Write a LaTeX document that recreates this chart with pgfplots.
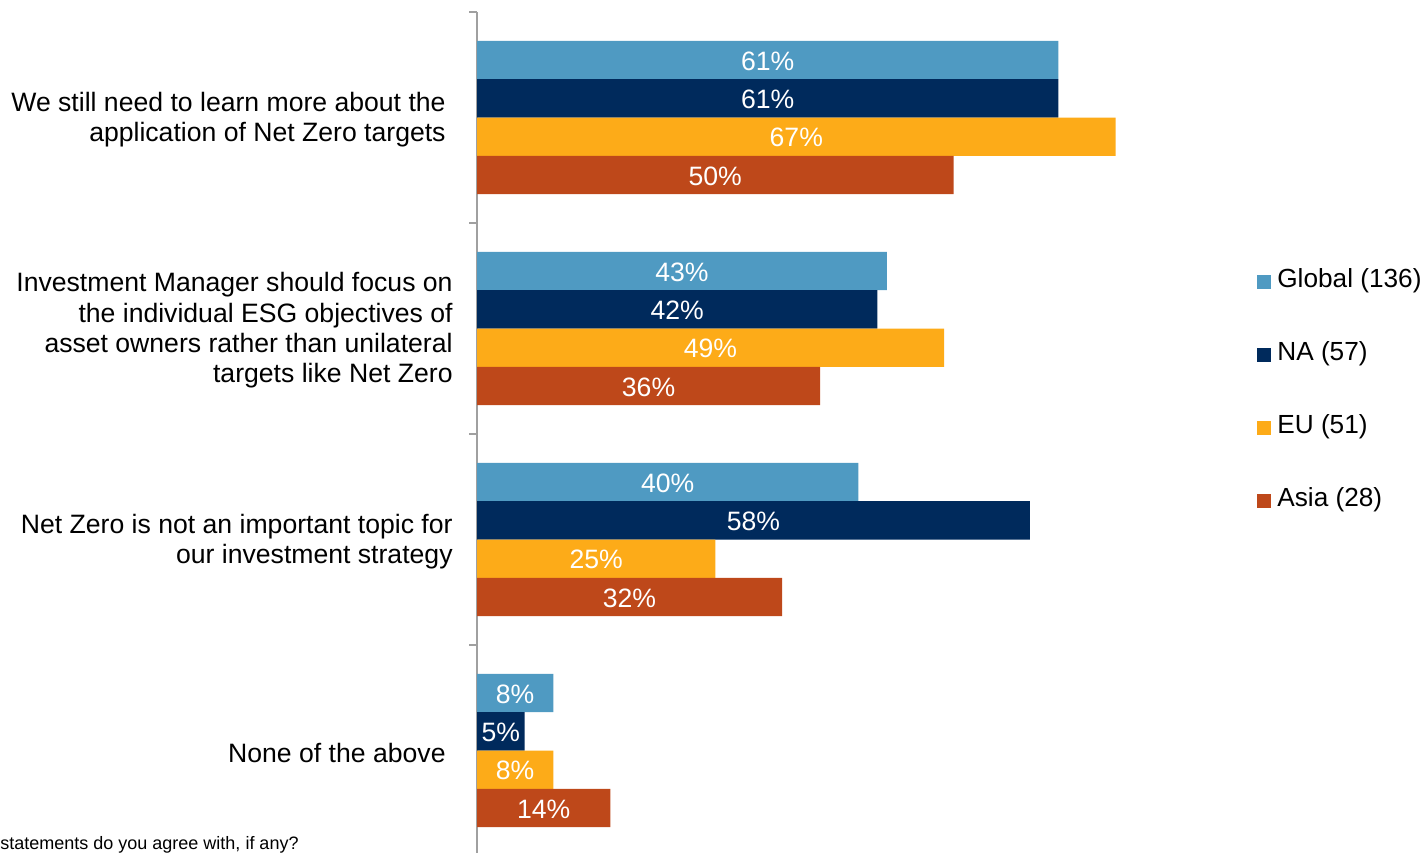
\documentclass[border=0pt]{standalone}
\usepackage{fontspec}
\setmainfont{Liberation Sans}
\usepackage{pgfplots}
\pgfplotsset{compat=1.18}
\definecolor{cGlobal}{HTML}{4F9AC2}
\definecolor{cNA}{HTML}{002A5C}
\definecolor{cEU}{HTML}{FDAB18}
\definecolor{cAsia}{HTML}{BE481A}
\definecolor{axgray}{HTML}{A0A0A0}
\begin{document}
\begin{tikzpicture}
\path[use as bounding box] (0,0) rectangle (712pt,426pt);
\begin{axis}[
  at={(238.5pt,420pt)}, anchor=north west,
  scale only axis, width=333.6pt, height=422pt,
  xbar, bar width=0.1815,
  xmin=0, xmax=70, ymin=-0.5, ymax=3.5,
  y dir=reverse,
  axis x line=none, axis y line*=left,
  axis line style={axgray, line width=0.75pt},
  xtick=\empty,
  ytick={0,1,2,3},
  yticklabels={
    {We still need to learn more about the\hspace*{3.5pt}\\application of Net Zero targets\hspace*{3.5pt}},
    {Investment Manager should focus on\\the individual ESG objectives of\\asset owners rather than unilateral\\targets like Net Zero},
    {Net Zero is not an important topic for\\our investment strategy},
    {None of the above\hspace*{3.5pt}}},
  major tick length=0pt,
  minor ytick={-0.5,0.5,1.5,2.5,3.5},
  minor tick length=4pt,
  tick align=outside,
  minor tick style={axgray, line width=0.75pt},
  yticklabel style={align=right, inner sep=0pt, xshift=-12pt, yshift=-1pt, font=\fontsize{13.3}{15.2}\selectfont},
  /pgf/number format/assume math mode=true,
  nodes near coords={\pgfmathprintnumber{\pgfplotspointmeta}\%},
  visualization depends on={x \as \rawx},
  every node near coord/.append style={anchor=center, text=white, font=\fontsize{13.3}{15}\selectfont,
     shift={(axis direction cs:-\rawx/2,0)}, yshift=-0.5pt},
  legend style={draw=none, at={(axis description cs:1.169,0.5506)}, anchor=west,
     font=\fontsize{13.1}{15}\selectfont, row sep=24.5pt, inner sep=0pt,
     nodes={inner xsep=3pt, inner ysep=0pt, text height=9pt, text depth=3pt}},
  legend cell align=left,
  legend image code/.code={\fill[#1] (0pt,-3.5pt) rectangle (7pt,3.5pt);},
  clip=false,
]
\addplot[fill=cGlobal, draw=none, bar shift=-0.27225] coordinates {(61,0) (43,1) (40,2) (8,3)};
\addplot[fill=cNA, draw=none, bar shift=-0.09075] coordinates {(61,0) (42,1) (58,2) (5,3)};
\addplot[fill=cEU, draw=none, bar shift=0.09075] coordinates {(67,0) (49,1) (25,2) (8,3)};
\addplot[fill=cAsia, draw=none, bar shift=0.27225] coordinates {(50,0) (36,1) (32,2) (14,3)};
\legend{Global (136), NA (57), EU (51), Asia (28)}
\end{axis}
\node[anchor=base west, inner sep=0pt, font=\fontsize{9}{10}\selectfont] at (0pt,1.5pt) {statements do you agree with, if any?};
\end{tikzpicture}
\end{document}
